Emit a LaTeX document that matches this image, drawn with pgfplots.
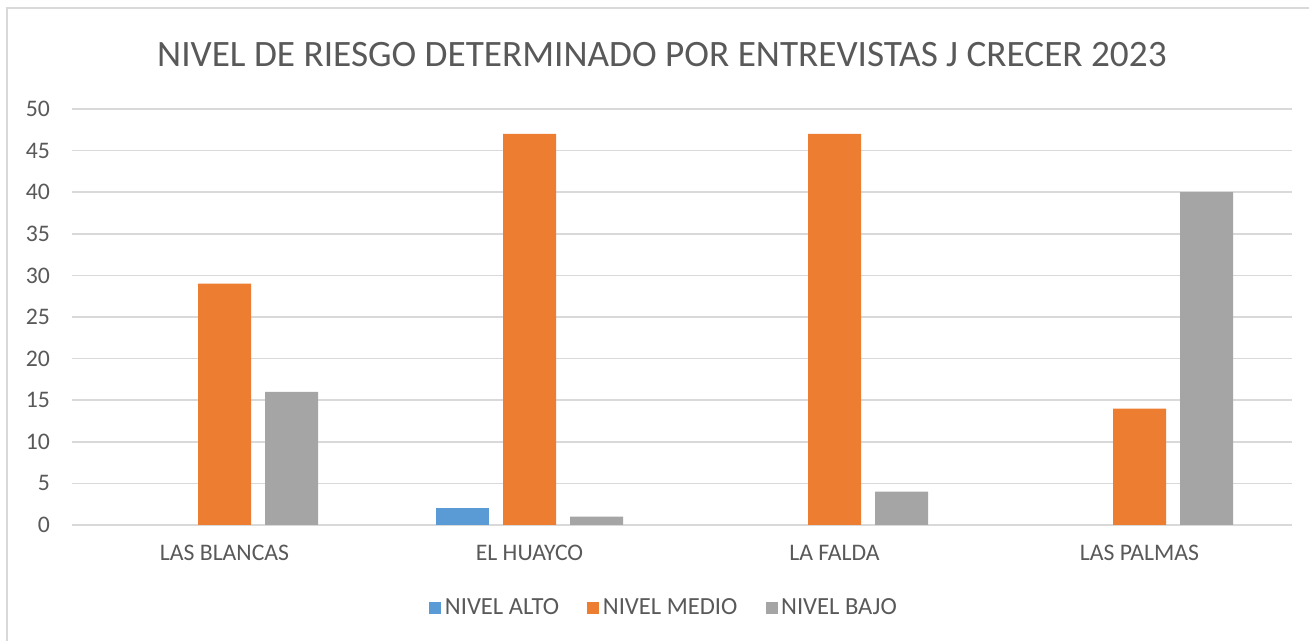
\documentclass[border=0pt]{standalone}
\usepackage{pgfplots}
\pgfplotsset{compat=1.18}
\usepackage{fontspec}
\setmainfont{Carlito}
\definecolor{cblue}{HTML}{5B9BD5}
\definecolor{corange}{HTML}{ED7D31}
\definecolor{cgray}{HTML}{A5A5A5}
\definecolor{ctext}{HTML}{595959}
\definecolor{cgrid}{HTML}{D9D9D9}
\begin{document}
\begin{tikzpicture}
\useasboundingbox (0,0) rectangle (26.18cm,12.82cm);
\fill[white] (0,0) rectangle (26.18cm,12.82cm);
\draw[cgrid, line width=1pt] (0.14cm,0) -- (0.14cm,12.66cm) -- (26.18cm,12.66cm);
\node[text=ctext, font=\fontsize{21.2}{24}\selectfont] at (13.24cm,11.72cm) {NIVEL DE RIESGO DETERMINADO POR ENTREVISTAS J CRECER 2023};
\begin{axis}[
  at={(1.44cm,2.32cm)}, anchor=south west,
  scale only axis, width=24.4cm, height=8.32cm,
  xmin=-0.5, xmax=3.5, ymin=0, ymax=50,
  ytick={0,5,...,50},
  xtick={0,1,2,3},
  xticklabels={LAS BLANCAS, EL HUAYCO, LA FALDA, LAS PALMAS},
  axis line style={draw=none},
  axis x line*=bottom,
  x axis line style={draw=cgrid, line width=1pt},
  ymajorgrids, grid style={cgrid, line width=1pt},
  major tick length=0pt,
  tick label style={text=ctext, font=\fontsize{13.5}{16}\selectfont},
  yticklabel style={xshift=-9pt},
  xticklabel style={yshift=-8pt},
  /pgf/number format/assume math mode=true,
  ybar=0pt, bar width=1.06cm,
  legend style={at={(0.486,-0.2)}, anchor=center, draw=none, legend columns=3,
    font=\fontsize{14}{16}\selectfont, text=ctext,
    /tikz/every even column/.append style={column sep=14pt}},
  legend image code/.code={\fill[#1] (0cm,-0.12cm) rectangle (0.24cm,0.12cm);},
]
\addplot[fill=cblue, draw=none, bar shift=-1.34cm] coordinates {(1,2)};
\addplot[fill=corange, draw=none, bar shift=0cm] coordinates {(0,29) (1,47) (2,47) (3,14)};
\addplot[fill=cgray, draw=none, bar shift=1.34cm] coordinates {(0,16) (1,1) (2,4) (3,40)};
\legend{NIVEL ALTO, NIVEL MEDIO, NIVEL BAJO}
\end{axis}
\end{tikzpicture}
\end{document}
